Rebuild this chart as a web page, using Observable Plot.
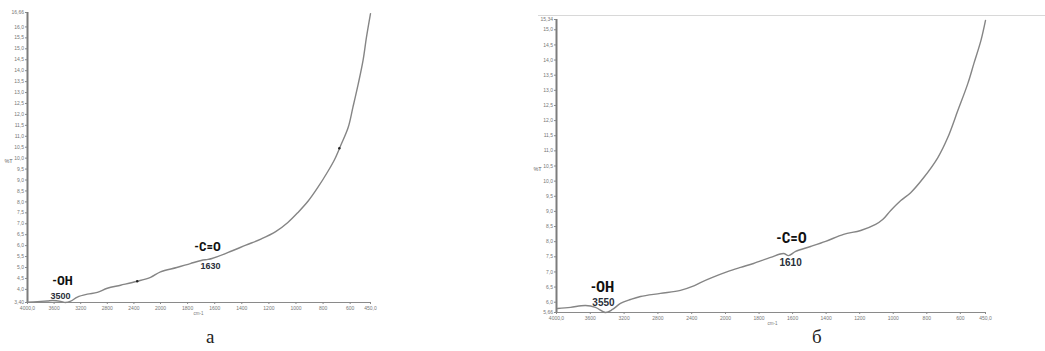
<!DOCTYPE html>
<html>
<head>
<meta charset="utf-8">
<script src="https://cdn.jsdelivr.net/npm/d3@7"></script>
<script src="https://cdn.jsdelivr.net/npm/@observablehq/plot@0.6"></script>
<style>
  html, body { margin: 0; padding: 0; background: #fff; }
  #wrap { position: relative; width: 1045px; height: 351px; overflow: hidden; }
  #wrap svg { position: absolute; left: 0; top: 0; }
  .cap { position: absolute; font-family: "Liberation Serif", "DejaVu Serif", serif; font-size: 19px; color: #222; }
  #topline { position: absolute; left: 538px; top: 15px; width: 507px; height: 0; border-top: 1px solid #d8d8d8; }
</style>
</head>
<body>
<div id="wrap"><div id="topline"></div></div>
<script>
// ---------- data: panel а ----------
const leftWavenumber = [4000, 3850, 3700, 3620, 3500, 3430, 3350, 3250, 3100, 2950, 2800, 2600, 2350, 2150, 2000, 1880, 1780, 1700, 1650, 1620, 1500, 1370, 1255, 1150, 1060, 985, 910, 840, 765, 715, 670, 615, 580, 540, 505, 480, 450];
const leftTransmittance = [3.41, 3.44, 3.47, 3.49, 3.45, 3.40, 3.46, 3.65, 3.78, 3.86, 4.05, 4.19, 4.37, 4.55, 4.80, 5.00, 5.18, 5.32, 5.37, 5.41, 5.69, 6.02, 6.31, 6.64, 7.06, 7.52, 8.04, 8.65, 9.39, 9.94, 10.58, 11.40, 12.32, 13.41, 14.47, 15.52, 16.61];
const leftMarkWavenumber = [2350, 680];
const leftMarkTransmittance = [4.37, 10.45];
const leftYTicks = [3.40, 4.0, 4.5, 5.0, 5.5, 6.0, 6.5, 7.0, 7.5, 8.0, 8.5, 9.0, 9.5, 10.0, 10.5, 11.0, 11.5, 12.0, 12.5, 13.0, 13.5, 14.0, 14.5, 15.0, 15.5, 16.0, 16.66];
const leftYLabels = ["3,40", "4,0", "4,5", "5,0", "5,5", "6,0", "6,5", "7,0", "7,5", "8,0", "8,5", "9,0", "9,5", "10,0", "10,5", "11,0", "11,5", "12,0", "12,5", "13,0", "13,5", "14,0", "14,5", "15,0", "15,5", "16,0", "16,66"];
const leftGroups = ["-OH", "-C=O"];
const leftGroupWavenumber = [3474, 1653];
const leftGroupY = [4.41, 5.96];
const leftPeakLabels = ["3500", "1630"];
const leftPeakWavenumber = [3504, 1631];
const leftPeakY = [3.67, 5.05];

// ---------- data: panel б ----------
const rightWavenumber = [3988, 3834, 3657, 3539, 3420, 3337, 3243, 3125, 3006, 2770, 2533, 2391, 2296, 2154, 1988, 1910, 1833, 1731, 1654, 1624, 1582, 1493, 1403, 1296, 1194, 1105, 1063, 1015, 955, 896, 818, 734, 675, 615, 555, 519, 477, 450];
const rightTransmittance = [5.79, 5.83, 5.89, 5.83, 5.66, 5.76, 5.96, 6.09, 6.19, 6.29, 6.39, 6.52, 6.65, 6.82, 7.01, 7.15, 7.28, 7.48, 7.61, 7.54, 7.68, 7.84, 8.01, 8.24, 8.37, 8.57, 8.73, 9.03, 9.36, 9.62, 10.12, 10.78, 11.44, 12.33, 13.23, 13.89, 14.65, 15.31];
const rightYTicks = [5.66, 6.0, 6.5, 7.0, 7.5, 8.0, 8.5, 9.0, 9.5, 10.0, 10.5, 11.0, 11.5, 12.0, 12.5, 13.0, 13.5, 14.0, 14.5, 15.0, 15.34];
const rightYLabels = ["5,66", "6,0", "6,5", "7,0", "7,5", "8,0", "8,5", "9,0", "9,5", "10,0", "10,5", "11,0", "11,5", "12,0", "12,5", "13,0", "13,5", "14,0", "14,5", "15,0", "15,34"];
const rightGroups = ["-OH", "-C=O"];
const rightGroupWavenumber = [3456, 1606];
const rightGroupY = [6.49, 8.10];
const rightPeakLabels = ["3550", "1610"];
const rightPeakWavenumber = [3444, 1612];
const rightPeakY = [5.99, 7.31];

// ---------- shared x ticks ----------
const xTicks = [4000, 3600, 3200, 2800, 2400, 2000, 1800, 1600, 1400, 1200, 1000, 800, 600, 450];
const xTickLabels = ["4000,0", "3600", "3200", "2800", "2400", "2000", "1800", "1600", "1400", "1200", "1000", "800", "600", "450,0"];
const xBreak = [4000, 2000, 450];
const yLabel = "%T";
const xLabel = "cm-1";
const captions = ["а", "б"];

const zip = (xs, ys) => xs.map((x, i) => ({x, y: ys[i]}));
const zipT = (xs, ys, ts) => xs.map((x, i) => ({x, y: ys[i], t: ts[i]}));

function panel(cfg) {
  const curve = zip(cfg.wn, cfg.tr);
  const yMin = cfg.yTicks[0], yMax = cfg.yTicks[cfg.yTicks.length - 1];
  return Plot.plot({
    width: 1045,
    height: 351,
    marginLeft: cfg.xr[0],
    marginRight: 1045 - cfg.xr[2],
    marginTop: cfg.yr[1],
    marginBottom: 351 - cfg.yr[0],
    style: {background: "transparent", color: "#777", fontFamily: "Liberation Sans, Arial, sans-serif", overflow: "visible"},
    x: {type: "linear", domain: xBreak, range: cfg.xr},
    y: {domain: [yMin, yMax], range: cfg.yr},
    marks: [
      Plot.ruleY([yMin], {x1: 4000, x2: 450, stroke: "#8a8a8a", strokeWidth: 1}),
      Plot.ruleX([4000], {y1: yMin, y2: yMax, stroke: "#7c7c7c", strokeWidth: 2}),
      Plot.axisX({ticks: xTicks, tickFormat: (d) => xTickLabels[xTicks.indexOf(d)], tickSize: 2, tickPadding: 2, fontSize: 5, label: null, stroke: "#888", fill: "#777"}),
      Plot.axisY({ticks: cfg.yTicks, tickFormat: (d) => cfg.yLabels[cfg.yTicks.indexOf(d)], tickSize: 2, tickPadding: 1.5, fontSize: 5, label: null, stroke: "#888", fill: "#777"}),
      Plot.text([yLabel], {frameAnchor: "left", y: cfg.yLabelAt, dx: -19, textAnchor: "middle", fontSize: 5.5, fill: "#666", text: (d) => d}),
      Plot.text([xLabel], {frameAnchor: "bottom", x: cfg.xLabelAt, dy: 12, fontSize: 4.5, fill: "#777", text: (d) => d}),
      Plot.line(curve, {x: "x", y: "y", stroke: "#858585", strokeWidth: 1.4, curve: "catmull-rom"}),
      Plot.dot(zip(cfg.markWn || [], cfg.markTr || []), {x: "x", y: "y", r: 1.2, fill: "#222", stroke: null}),
      Plot.text(zipT(cfg.gWn, cfg.gY, cfg.groups), {x: "x", y: "y", text: "t", fontSize: cfg.gSize, fontWeight: "bold", fill: "#111", fontFamily: "Liberation Sans Narrow, Roboto Condensed, Liberation Sans, sans-serif"}),
      Plot.text(zipT(cfg.pWn, cfg.pY, cfg.peaks), {x: "x", y: "y", text: "t", fontSize: cfg.pSize, fontWeight: "bold", fill: "#2a2f3a", fontFamily: "Liberation Sans Narrow, Liberation Sans, sans-serif"})
    ]
  });
}

const wrap = document.getElementById("wrap");
wrap.appendChild(panel({
  wn: leftWavenumber, tr: leftTransmittance, markWn: leftMarkWavenumber, markTr: leftMarkTransmittance,
  yTicks: leftYTicks, yLabels: leftYLabels, xr: [27, 160, 370], yr: [302, 12],
  yLabelAt: 9.85, xLabelAt: 1720,
  groups: leftGroups, gWn: leftGroupWavenumber, gY: leftGroupY, gSize: 13,
  peaks: leftPeakLabels, pWn: leftPeakWavenumber, pY: leftPeakY, pSize: 9
}));
wrap.appendChild(panel({
  wn: rightWavenumber, tr: rightTransmittance,
  yTicks: rightYTicks, yLabels: rightYLabels, xr: [556, 725, 985], yr: [312, 19],
  yLabelAt: 10.4, xLabelAt: 1720,
  groups: rightGroups, gWn: rightGroupWavenumber, gY: rightGroupY, gSize: 15,
  peaks: rightPeakLabels, pWn: rightPeakWavenumber, pY: rightPeakY, pSize: 10
}));

const capPos = [[206, 326], [812, 326]];
captions.forEach((c, i) => {
  const d = document.createElement("div");
  d.className = "cap";
  d.textContent = c;
  d.style.left = capPos[i][0] + "px";
  d.style.top = capPos[i][1] + "px";
  wrap.appendChild(d);
});
</script>
</body>
</html>
